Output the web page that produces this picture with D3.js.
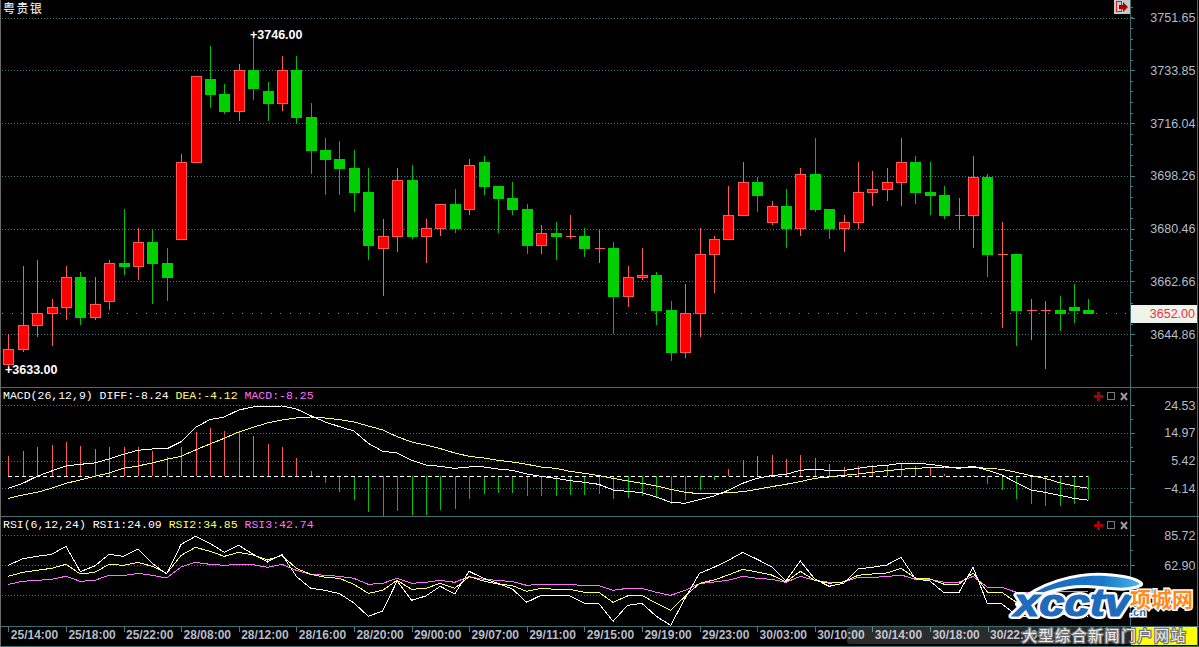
<!DOCTYPE html>
<html lang="zh">
<head>
    <meta charset="UTF-8">
    <title>粤贵银</title>
    <script src="https://d3js.org/d3.v7.min.js"></script>
    <style>
        html, body { margin: 0; padding: 0; background: #000; overflow: hidden; }
        svg { display: block; }
        text { font-family: "Liberation Sans", Arial, sans-serif; }
        .grid { stroke: #3d7a7d; stroke-width: 1; stroke-dasharray: 1,2; shape-rendering: crispEdges; }
        .frame { stroke: #3f6f72; stroke-width: 1; shape-rendering: crispEdges; }
        .axis path { display: none; }
        .axis line { stroke: #3f7f82; shape-rendering: crispEdges; }
        .axis text { fill: #b4bcc8; font-size: 12.5px; }
        .time-axis text { font-size: 12px; font-weight: bold; }
        .pane-label { font-family: "Liberation Mono", monospace; font-size: 11.5px; }
        .series { fill: none; stroke-width: 1; shape-rendering: crispEdges; }
    </style>
</head>
<body>
<svg width="1199" height="647"></svg>
<script>
// candles
const opens = [3634.6,3639.7,3647.8,3651.8,3653.8,3664.2,3650.5,3655.9,3668.9,3667.6,3676.0,3668.9,3676.7,3702.7,3730.9,3725.9,3719.9,3734.0,3726.9,3722.6,3734.0,3718.1,3707.0,3704.0,3700.9,3692.8,3673.7,3677.9,3696.9,3677.8,3680.5,3688.8,3686.9,3702.9,3694.9,3690.8,3687.1,3674.7,3679.0,3677.9,3678.0,3673.8,3673.9,3657.5,3663.9,3664.8,3653.0,3638.7,3651.8,3671.7,3676.7,3684.8,3696.2,3682.5,3688.1,3680.5,3698.9,3687.1,3680.5,3682.5,3692.6,3693.6,3696.0,3702.9,3692.8,3691.8,3685.0,3684.8,3697.9,3671.8,3671.9,3652.9,3652.9,3653.0,3654.1,3653.0];
const highs = [3644.9,3667.9,3669.9,3656.8,3667.9,3665.9,3664.2,3669.9,3687.1,3680.7,3680.0,3673.9,3705.6,3731.8,3742.0,3729.2,3736.0,3746.0,3729.9,3738.7,3738.7,3722.8,3711.0,3710.0,3707.0,3700.9,3683.7,3700.9,3701.9,3683.7,3688.7,3693.8,3704.0,3705.0,3694.9,3696.2,3688.8,3681.7,3682.7,3685.1,3680.7,3680.0,3676.0,3667.9,3673.9,3665.9,3656.1,3661.8,3680.7,3678.0,3694.9,3702.9,3698.0,3689.8,3693.8,3700.9,3711.0,3687.1,3685.1,3702.9,3699.9,3700.9,3711.0,3705.0,3702.9,3694.9,3690.8,3705.0,3698.9,3682.7,3671.9,3656.8,3656.1,3657.8,3661.8,3656.8];
const lows = [3633.0,3639.0,3644.0,3640.9,3649.7,3648.0,3649.7,3653.0,3664.8,3663.2,3655.1,3656.1,3676.7,3702.7,3721.1,3719.1,3716.8,3723.8,3716.8,3720.1,3715.8,3698.9,3691.8,3691.8,3686.1,3669.9,3657.8,3672.6,3677.0,3668.9,3678.0,3679.0,3685.1,3691.8,3679.0,3685.1,3671.9,3671.9,3669.9,3677.0,3670.9,3668.9,3644.9,3654.1,3663.2,3648.0,3635.9,3636.9,3643.9,3658.8,3676.7,3684.8,3686.1,3681.7,3673.9,3678.0,3686.1,3677.0,3672.6,3680.5,3688.1,3689.8,3688.1,3688.8,3685.1,3683.7,3680.0,3673.9,3664.2,3647.0,3640.9,3642.9,3633.0,3646.0,3648.7,3651.7];
const closes = [3639.8,3647.9,3651.9,3654.0,3664.1,3650.5,3655.0,3668.8,3667.5,3675.9,3668.6,3663.8,3702.8,3731.8,3725.5,3719.8,3733.9,3727.5,3722.5,3733.9,3717.8,3706.6,3703.6,3700.6,3692.5,3674.6,3677.9,3696.8,3677.7,3680.6,3688.7,3680.4,3701.8,3694.5,3690.5,3686.8,3674.6,3678.9,3677.7,3677.9,3673.6,3673.8,3657.4,3664.1,3664.7,3652.7,3638.5,3651.9,3671.8,3676.9,3685.0,3696.1,3691.5,3688.0,3680.4,3698.8,3686.8,3680.4,3682.6,3692.7,3693.7,3696.1,3702.8,3692.5,3691.5,3684.7,3685.0,3697.8,3671.6,3671.8,3652.7,3652.9,3652.9,3651.7,3652.7,3651.7];

// MACD pane
const macdBars = [7.02,8.75,10.13,10.82,11.86,10.48,9.44,10.13,10.13,10.13,8.75,6.68,10.13,15.2,16.7,15.66,15.66,13.93,11.17,10.13,6.33,1.84,-2.3,-5.41,-8.18,-12.32,-13.7,-12,-13.36,-13.36,-11.63,-11.28,-7.83,-6.1,-5.76,-5.76,-6.79,-6.79,-6.79,-6.45,-6.45,-6.1,-7.83,-7.48,-6.79,-7.48,-9.56,-8.18,-4.72,-1.27,2.53,5.64,7.02,7.37,5.99,7.37,6.33,4.26,3.22,3.57,3.91,3.91,4.61,3.57,2.76,0.81,-0.35,0.46,-2.65,-4.72,-7.83,-9.56,-10.25,-10.25,-9.56,-8.25];
const diff = [-4.15,-2.42,0,1.84,3.57,4.15,4.61,5.99,7.6,8.98,9.44,9.44,11.97,16.93,19.57,20.5,22.9,23.95,23.95,24.3,23.26,20.96,18.77,17.16,15.66,11.4,8.64,8.06,5.53,3.91,3.45,2.76,3.22,3.22,2.53,2.07,0.81,0,-0.69,-1.5,-2.07,-2.76,-4.72,-5.18,-5.64,-7.14,-8.98,-9.33,-8.06,-6.79,-4.84,-2.42,-0.69,0.23,0.69,2.07,2.53,1.96,1.96,2.76,3.45,3.8,4.49,4.49,4.15,3.45,2.76,3.45,2.07,0.46,-2.19,-4.72,-5.53,-6.56,-7.6,-8.24];
const dea = [-7.6,-6.45,-5.53,-4.15,-2.42,-1.27,0,1.15,2.76,3.57,4.61,5.87,6.91,9.1,11.17,13.13,15.31,16.93,18.42,19.46,20.15,20.5,20.15,19.57,18.77,17.39,16,13.7,11.86,10.82,9.56,8.06,6.91,6.33,5.53,4.95,4.15,3.22,2.76,1.73,1.04,0.23,-0.69,-1.61,-2.42,-3.34,-4.49,-5.53,-5.99,-5.99,-5.64,-5.3,-4.49,-3.57,-2.76,-1.84,-0.69,-0.23,0.35,0.81,1.38,1.96,2.42,2.76,2.99,3.22,3.11,3.11,2.76,2.42,1.38,0.23,-0.69,-2.19,-3.34,-4.12];

// RSI pane
const rsi1 = [62.77,67.81,69.58,71.09,77.14,57.98,62.26,71.09,69.58,75.12,64.28,56.21,78.66,84.71,79.41,72.6,77.9,71.09,65.29,71.09,54.45,45.37,43.85,41.33,34.27,24.18,28.22,50.91,36.29,39.57,46.88,41.08,58.23,52.93,49.15,44.86,34.77,40.07,39.57,39.57,34.02,34.02,20.4,32.5,34.02,24.18,17.37,37.8,56.72,61.26,66.55,72.6,67.31,61.76,50.91,66.05,52.43,46.88,49.15,60,61.26,63.02,68.82,52.43,50.91,41.84,41.84,61.26,33.51,33.51,25.19,23.5,26,25,27,24.09];
const rsi2 = [54.45,57.47,58.99,60.5,63.52,56.21,57.47,63.52,62.77,65.04,62.01,56.72,70.33,76.39,73.36,69.58,72.6,70.59,66.8,70.33,60.5,55.96,53.69,52.93,48.39,41.58,43.85,51.42,44.61,45.37,49.15,45.37,54.2,50.91,48.64,47.38,43.1,45.37,44.61,44.61,42.34,42.34,34.77,39.57,40.07,34.02,28.72,39.31,49.15,51.67,55.45,59.74,57.72,55.45,50.16,58.23,51.42,49.15,50.16,55.2,56.21,56.97,60.5,53.18,52.43,48.39,48.39,56.97,42.34,42.34,34.77,34,36,35,36,34.85];
const rsi3 = [48.39,50.66,51.42,52.18,54.45,50.66,51.42,55.2,54.95,56.72,55.2,53.18,61.51,65.04,63.52,62.77,63.52,63.27,61.26,63.52,58.99,55.96,55.2,54.45,52.93,48.39,49.15,52.93,49.15,49.91,51.42,49.91,54.2,52.18,51.42,50.41,47.64,48.39,48.39,48.39,47.38,47.38,43.85,45.37,45.37,42.34,40.07,43.85,48.9,50.16,51.42,54.45,52.93,52.18,49.91,54.45,51.42,49.91,50.16,53.69,53.69,54.2,55.45,52.18,52.18,49.91,49.91,54.45,46.12,46.12,42.34,42,43,42.6,43,42.74];

// axis ticks
const priceTicks = [3751.65,3733.85,3716.04,3698.26,3680.46,3662.66,3644.86];
const macdTicks = [24.53,14.97,5.42,-4.14];
const rsiTicks = [85.72,62.90];
const rsiGrid = [85.72,62.90,40.08];
const timeIndex = [0,4,8,12,16,20,24,28,32,36,40,44,48,52,56,60,64,68];
const timeLabels = ["25/14:00","25/18:00","25/22:00","28/08:00","28/12:00","28/16:00","28/20:00","29/00:00","29/07:00","29/11:00","29/15:00","29/19:00","29/23:00","30/03:00","30/10:00","30/14:00","30/18:00","30/22:00"];
const lastPrice = 3652.00;
const maxPrice = 3746.00;
const minPrice = 3633.00;

const width = 1199, height = 647;
const axisX = 1130.5;
const plotRight = axisX;
const RED = "#ff0000", RED_LINE = "#ff5a5a", GREEN = "#00d000", GREEN_LINE = "#00c000";

const svg = d3.select("svg");
svg.append("rect").attr("width", width).attr("height", height).attr("fill", "#000");

const indices = d3.range(opens.length);
const x = d3.scaleLinear().domain([0, opens.length - 1]).range([8.3, 1088.3]);
const yPrice = d3.scaleLinear().domain([3644.86, 3751.65]).range([334.3, 17.5]);
const yMacd = d3.scaleLinear().domain([-4.14, 24.53]).range([488.3, 405.3]);
const yRsi = d3.scaleLinear().domain([40.08, 85.72]).range([595.3, 535]);

// Horizontal dotted grid lines for a pane
function drawGrid(scale, values) {
    svg.append("g").selectAll("line").data(values).enter().append("line")
        .attr("class", "grid")
        .attr("x1", 2).attr("x2", plotRight)
        .attr("y1", d => Math.round(scale(d)) + 0.5)
        .attr("y2", d => Math.round(scale(d)) + 0.5);
}
drawGrid(yPrice, priceTicks);
drawGrid(yMacd, macdTicks);
drawGrid(yRsi, rsiGrid);

// last price dotted line
svg.append("line")
    .attr("x1", 2).attr("x2", plotRight)
    .attr("y1", Math.round(yPrice(lastPrice)) + 0.5).attr("y2", Math.round(yPrice(lastPrice)) + 0.5)
    .attr("stroke", "#8a8a8a").attr("stroke-dasharray", "1,8.6").style("shape-rendering", "crispEdges");

// Candles
const crisp = v => Math.round(v) + 0.5;
const candles = svg.append("g").selectAll("g").data(indices).enter().append("g");
candles.append("line")
    .attr("x1", i => crisp(x(i))).attr("x2", i => crisp(x(i)))
    .attr("y1", i => yPrice(highs[i])).attr("y2", i => yPrice(lows[i]))
    .attr("stroke", i => closes[i] < opens[i] ? GREEN_LINE : RED_LINE)
    .style("shape-rendering", "crispEdges");
candles.append("rect")
    .attr("x", i => Math.round(x(i)) - 5 + (closes[i] < opens[i] ? 0 : 0.5))
    .attr("width", i => closes[i] < opens[i] ? 11 : 10)
    .attr("y", i => yPrice(Math.max(opens[i], closes[i])))
    .attr("height", i => Math.max(1, yPrice(Math.min(opens[i], closes[i])) - yPrice(Math.max(opens[i], closes[i]))))
    .attr("fill", i => closes[i] < opens[i] ? GREEN : (opens[i] === closes[i] ? RED_LINE : RED))
    .attr("stroke", i => closes[i] < opens[i] || opens[i] === closes[i] ? "none" : RED_LINE)
    .style("shape-rendering", "crispEdges");

// max and min labels
svg.append("text").attr("x", 250).attr("y", 39).attr("fill", "#fff")
    .attr("font-size", "12.5px").attr("font-weight", "bold").text("+" + maxPrice.toFixed(2));
svg.append("text").attr("x", 5).attr("y", 374).attr("fill", "#fff")
    .attr("font-size", "12.5px").attr("font-weight", "bold").text("+" + minPrice.toFixed(2));

// MACD bars, zero line and curves
svg.append("g").selectAll("line").data(indices).enter().append("line")
    .attr("x1", i => crisp(x(i))).attr("x2", i => crisp(x(i)))
    .attr("y1", yMacd(0)).attr("y2", i => yMacd(macdBars[i]))
    .attr("stroke", i => macdBars[i] < 0 ? GREEN_LINE : RED_LINE)
    .style("shape-rendering", "crispEdges");
svg.append("line")
    .attr("x1", 8).attr("x2", x(opens.length - 1))
    .attr("y1", crisp(yMacd(0))).attr("y2", crisp(yMacd(0)))
    .attr("stroke", "#fff").attr("stroke-dasharray", "4,3").style("shape-rendering", "crispEdges");

function drawSeries(values, scale, color) {
    const line = d3.line().x((d, i) => x(i)).y(d => scale(d));
    svg.append("path").datum(values).attr("class", "series").attr("stroke", color).attr("d", line);
}
drawSeries(dea, yMacd, "#ffff66");
drawSeries(diff, yMacd, "#ffffff");
drawSeries(rsi3, yRsi, "#ff70ff");
drawSeries(rsi2, yRsi, "#ffff66");
drawSeries(rsi1, yRsi, "#ffffff");

// frame
const frameY = [387.5, 516.5, 626.5, 646.5];
svg.append("g").selectAll("line").data(frameY).enter().append("line")
    .attr("class", "frame").attr("x1", 1).attr("x2", width).attr("y1", d => d).attr("y2", d => d);
svg.append("line").attr("class", "frame").attr("x1", axisX).attr("x2", axisX).attr("y1", 0).attr("y2", 626);
svg.append("line").attr("class", "frame").attr("x1", 1197.5).attr("x2", 1197.5).attr("y1", 0).attr("y2", height);
svg.append("line").attr("x1", 0.5).attr("x2", 0.5).attr("y1", 0).attr("y2", height)
    .attr("stroke", "#6a6a6a").style("shape-rendering", "crispEdges");

// Right hand axes: labelled ticks plus small unlabelled ones
function drawAxis(scale, ticks, minorTicks) {
    svg.append("g").attr("class", "axis").attr("transform", `translate(${axisX},0)`)
        .call(d3.axisRight(scale).tickValues(minorTicks).tickSize(2).tickFormat(""));
    const g = svg.append("g").attr("class", "axis").attr("transform", `translate(${axisX},0)`)
        .call(d3.axisRight(scale).tickValues(ticks).tickSize(4).tickFormat(d3.format(".2f")));
    g.selectAll("text").attr("x", 65).attr("text-anchor", "end");
}
drawAxis(yPrice, priceTicks, d3.range(3637.74, 3756, 3.56));
drawAxis(yMacd, macdTicks, d3.range(-8.92, 29, 4.78));
drawAxis(yRsi, rsiTicks, d3.range(40.08, 97, 11.41));

// Time axis
const timeAxis = svg.append("g").attr("class", "axis time-axis").attr("transform", "translate(0,627)")
    .call(d3.axisBottom(x).tickValues(timeIndex).tickSize(5).tickFormat((d, i) => timeLabels[i]));
timeAxis.selectAll("text").attr("text-anchor", "start").attr("dx", 2).attr("y", 12).attr("dy", 0);

// Last price box
svg.append("rect").attr("x", 1131).attr("y", 305).attr("width", 66).attr("height", 18).attr("fill", "#eef4ea");
svg.append("text").attr("x", 1195).attr("y", 317.5).attr("text-anchor", "end")
    .attr("fill", "#f03040").attr("font-size", "12.5px").text(lastPrice.toFixed(2));

// Titles
svg.append("text").attr("x", 3).attr("y", 13).attr("fill", "#fff")
    .style("font-family", '"Noto Sans CJK SC"').attr("font-size", "12px").attr("letter-spacing", "1.4px").text("粤贵银");

function paneLabel(y, parts) {
    const t = svg.append("text").attr("class", "pane-label").attr("x", 3).attr("y", y);
    parts.forEach(p => t.append("tspan").attr("fill", p[1]).attr("xml:space", "preserve").text(p[0]));
}
paneLabel(399, [["MACD(26,12,9) DIFF:-8.24 ", "#fff"], ["DEA:-4.12 ", "#ffff66"], ["MACD:-8.25", "#ff70ff"]]);
paneLabel(528, [["RSI(6,12,24) RSI1:24.09 ", "#fff"], ["RSI2:34.85 ", "#ffff66"], ["RSI3:42.74", "#ff70ff"]]);

// Exit icon, top right
svg.append("rect").attr("x", 1114).attr("y", 0).attr("width", 16).attr("height", 14).attr("fill", "#c8c8c8");
svg.append("rect").attr("x", 1116.5).attr("y", 1.5).attr("width", 5).attr("height", 10)
    .attr("fill", "none").attr("stroke", "#e02020").style("shape-rendering", "crispEdges");
svg.append("path").attr("d", "M1119 5h4V2l5 5-5 5V9h-4z").attr("fill", "#a80000");

// Pane buttons
[396, 525].forEach(cy => {
    svg.append("path").attr("d", `M1097 ${cy - 4}h3v3h3v3h-3v3h-3v-3h-3v-3h3z`).attr("fill", "#a80000");
    svg.append("rect").attr("x", 1107.5).attr("y", cy - 3.5).attr("width", 7).attr("height", 7)
        .attr("fill", "none").attr("stroke", "#777").style("shape-rendering", "crispEdges");
    svg.append("path").attr("d", `M1121 ${cy - 3}l6 7M1127 ${cy - 3}l-6 7`).attr("stroke", "#999").attr("stroke-width", 2);
});

// Watermark
svg.append("rect").attr("x", 847).attr("y", 627).attr("width", 284).attr("height", 17).attr("rx", 3)
    .attr("fill", "#fff").attr("fill-opacity", 0.17);
svg.append("rect").attr("x", 1131).attr("y", 627).attr("width", 66).attr("height", 18).attr("fill", "#ffff00");

const defs = svg.append("defs");
const swooshFill = defs.append("linearGradient").attr("id", "swoosh").attr("x1", "0%").attr("x2", "100%");
swooshFill.append("stop").attr("offset", "0%").attr("stop-color", "#1c66b8");
swooshFill.append("stop").attr("offset", "70%").attr("stop-color", "#1a78c8");
swooshFill.append("stop").attr("offset", "100%").attr("stop-color", "#49b6e6");
svg.append("path")
    .attr("d", "M1018 604C1040 585 1075 574 1105 576C1122 577 1134 579 1140 584C1125 591 1108 586 1088 585C1062 584 1040 592 1018 604Z")
    .attr("fill", "url(#swoosh)").attr("stroke", "#fff").attr("stroke-width", 6).attr("stroke-linejoin", "round")
    .style("paint-order", "stroke");
svg.append("text").attr("x", 1014).attr("y", 616).attr("textLength", 116).attr("lengthAdjust", "spacingAndGlyphs")
    .attr("font-size", "38px").attr("font-weight", "bold").attr("font-style", "italic")
    .attr("fill", "#fff").attr("stroke", "#fff").attr("stroke-width", 6).attr("stroke-linejoin", "round")
    .text("xcctv");
svg.append("text").attr("x", 1014).attr("y", 616).attr("textLength", 116).attr("lengthAdjust", "spacingAndGlyphs")
    .attr("font-size", "38px").attr("font-weight", "bold").attr("font-style", "italic")
    .attr("fill", "#1f6cbc").attr("stroke", "#1f6cbc").attr("stroke-width", 1.2)
    .text("xcctv");
svg.append("text").attr("x", 1130).attr("y", 616).attr("font-size", "11px").attr("font-weight", "bold")
    .attr("fill", "#1f6cbc").attr("stroke", "#fff").attr("stroke-width", 3).style("paint-order", "stroke").text(".cn");
svg.append("text").attr("x", 1130).attr("y", 607).style("font-family", '"Noto Sans CJK SC"')
    .attr("font-size", "21px").attr("font-weight", "bold")
    .attr("fill", "#ff8a1e").attr("stroke", "#fff").attr("stroke-width", 3).style("paint-order", "stroke").text("项城网");
svg.append("text").attr("x", 1022).attr("y", 641).style("font-family", '"Noto Sans CJK SC"')
    .attr("font-size", "15px").attr("letter-spacing", "1.5px")
    .attr("fill", "#efefef").attr("stroke", "#777").attr("stroke-width", 2.5).style("paint-order", "stroke").text("大型综合新闻门户网站");
</script>
</body>
</html>
